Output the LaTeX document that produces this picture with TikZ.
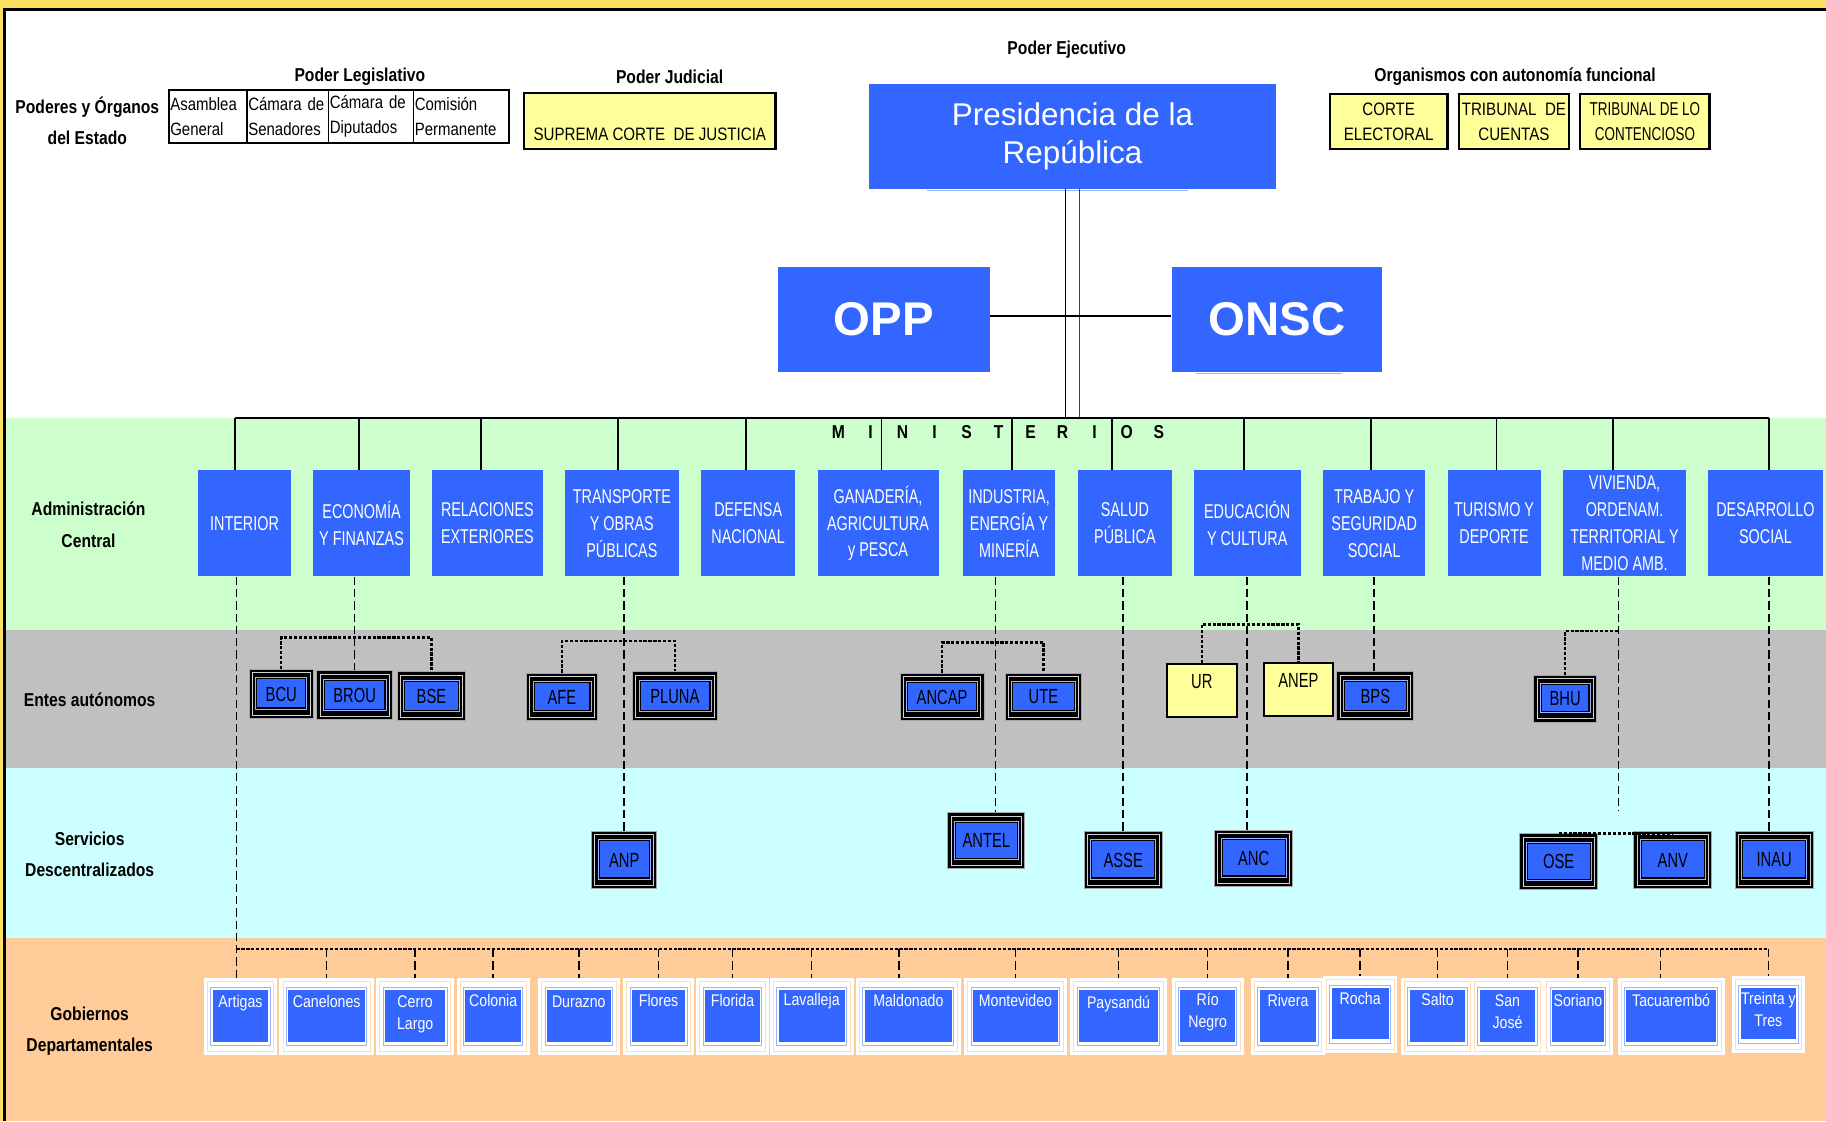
\documentclass[tikz,border=0pt]{standalone}
\usepackage{fontspec}
\setmainfont{Liberation Sans}
\newfontfamily\narrowsf{Liberation Sans}[FakeStretch=0.84]
\newfontfamily\condsf{Liberation Sans}[FakeStretch=0.72]
\usetikzlibrary{positioning}
\definecolor{boxblue}{HTML}{3366FF}
\definecolor{paleyellow}{HTML}{FFFF99}
\definecolor{bandgreen}{HTML}{CCFFCC}
\definecolor{bandgray}{HTML}{C0C0C0}
\definecolor{bandcyan}{HTML}{CCFFFF}
\definecolor{bandorange}{HTML}{FFCC99}
\definecolor{frameyellow}{HTML}{F9E060}
\definecolor{paleblue}{HTML}{99B3FF}
\definecolor{peach}{HTML}{FFDDBB}
\newcommand{\mletter}[1]{\makebox[6.875mm]{#1}}

\begin{document}
\begin{tikzpicture}[x=0.25mm,y=0.25mm,
  head/.style={font=\narrowsf\bfseries\fontsize{11.4}{19.2}\selectfont,align=center,inner sep=0},
  legcell/.style={draw,line width=1.1pt,outer sep=0,minimum height=11.5mm,inner xsep=0.3mm,inner ysep=0,align=left,font=\narrowsf\fontsize{10.9}{15}\selectfont},
  yelbox/.style={draw,line width=1.4pt,fill=paleyellow,inner sep=0,font=\narrowsf\fontsize{11}{15}\selectfont},
  bigbox/.style={fill=boxblue,text=white,inner sep=0,minimum height=22.5mm},
  minbox/.style={fill=boxblue,text=white,inner sep=0,minimum height=22.75mm,align=center,font=\condsf\fontsize{12.2}{16.4}\selectfont},
  entebox/.style={fill=black,draw=gray!70,line width=0.6pt,inner sep=0,text=black,font=\condsf\fontsize{12.5}{14}\selectfont,
    path picture={
      \draw[gray!35,line width=0.5pt] ([shift={(0.7mm,-0.7mm)}]path picture bounding box.north west) rectangle ([shift={(-0.7mm,0.7mm)}]path picture bounding box.south east);
      \draw[paleblue,line width=0.4pt] ([shift={(1.4mm,-1.75mm)}]path picture bounding box.north west) rectangle ([shift={(-1.4mm,2mm)}]path picture bounding box.south east);
      \fill[boxblue] ([shift={(1.75mm,-2.1mm)}]path picture bounding box.north west) rectangle ([shift={(-1.75mm,2.4mm)}]path picture bounding box.south east);}},
  yelente/.style={draw,line width=1.2pt,fill=paleyellow,inner sep=0,minimum width=15mm,text height=5.25mm,text depth=6.25mm,font=\condsf\fontsize{12.5}{14}\selectfont},
  gobbox/.style={fill=white,inner sep=0,minimum height=16.5mm,
    path picture={
      \draw[peach,line width=0.5pt] ([shift={(0.75mm,-0.75mm)}]path picture bounding box.north west) rectangle ([shift={(-0.75mm,0.75mm)}]path picture bounding box.south east);
      \draw[paleblue,line width=0.6pt] ([shift={(1.5mm,-2mm)}]path picture bounding box.north west) rectangle ([shift={(-1.5mm,2mm)}]path picture bounding box.south east);
      \fill[boxblue] ([shift={(1.9mm,-2.5mm)}]path picture bounding box.north west) rectangle ([shift={(-1.9mm,2.9mm)}]path picture bounding box.south east);}},
  gobtxt/.style={anchor=north,inner sep=0,text=white,align=center,font=\narrowsf\fontsize{10.3}{13.5}\selectfont},
  link/.style={line width=1.1pt},
  bus/.style={line width=1.5pt},
  drop/.style={line width=0.9pt,dash pattern=on 5pt off 2.5pt},
  bracket/.style={line width=1.5pt,dash pattern=on 2pt off 1pt}]
\useasboundingbox (0,0) rectangle (1568,-963);
\fill[frameyellow] (0,0) rectangle (1568,-963);
\fill[white] (3,-7) rectangle (1568,-963);
\fill[bandgreen] (3,-359) rectangle (1568,-541);
\fill[bandgray] (3,-541) rectangle (1568,-659.5);
\fill[bandcyan] (3,-659.5) rectangle (1568,-805.5);
\fill[bandorange] (3,-805.5) rectangle (1568,-963);
\draw[line width=1.6pt] (4,-963) -- (4,-8.2) -- (1568,-8.2);

\node[head] (poderes) at (75,-103.5) {Poderes y Órganos\\del Estado};
\node[head] (legis) at (309,-66) {Poder Legislativo};
\node[head] (judicial) at (575,-66) {Poder Judicial};
\node[head] (ejecutivo) at (916,-43) {Poder Ejecutivo};
\node[head] (organismos) at (1301,-66) {Organismos con autonomía funcional};

\node[legcell,text width=16.15mm,anchor=west] (asamblea) at (145,-100) {Asamblea\\General};
\node[legcell,text width=16.9mm,right=0pt of asamblea] (senadores) {Cámara de\\Senadores};
\node[legcell,text width=17.65mm,right=0pt of senadores] (diputados) {Cámara de\\Diputados};
\node[legcell,text width=19.9mm,right=0pt of diputados] (comision) {Comisión\\Permanente};

\node[yelbox,minimum width=54mm,text height=10.25mm,text depth=1.75mm] (scj) at (558,-104) {SUPREMA CORTE\ \ DE JUSTICIA};
\node[yelbox,align=center,minimum width=25.25mm,minimum height=11.75mm] (electoral) at (1192.5,-104.5) {CORTE\\ELECTORAL};
\node[yelbox,align=center,minimum width=23.5mm,minimum height=11.75mm] (cuentas) at (1300,-104.5) {TRIBUNAL\ \ DE\\CUENTAS};
\node[yelbox,align=center,minimum width=27.75mm,minimum height=11.75mm,font=\condsf\fontsize{11.4}{15}\selectfont] (contencioso) at (1412.5,-104.5) {TRIBUNAL DE LO\\CONTENCIOSO};

\node[bigbox,minimum width=87.5mm,align=center,font=\fontsize{19.2}{23.5}\selectfont] (presi) at (921,-117) {Presidencia de la\\República};
\node[bigbox,minimum width=45.5mm,font=\bfseries\fontsize{28.9}{30}\selectfont] (opp) at (759,-274) {OPP};
\node[bigbox,minimum width=45.25mm,font=\bfseries\fontsize{28.9}{30}\selectfont] (onsc) at (1096.5,-274) {ONSC};
\draw[paleblue,line width=0.8pt] ([shift={(12.5mm,-0.3mm)}]presi.south west) -- ([shift={(-19mm,-0.3mm)}]presi.south east);
\draw[paleblue,line width=0.8pt] ([shift={(5.25mm,-0.3mm)}]onsc.south west) -- ([shift={(-8.75mm,-0.3mm)}]onsc.south east);

\coordinate (busL) at (202,-359);
\coordinate (busR) at (1519,-359);
\node[head] (ministerios) at (857.5,-371) {\mletter{M}\mletter{I}\mletter{N}\mletter{I}\mletter{S}\mletter{T}\mletter{E}\mletter{R}\mletter{I}\mletter{O}\mletter{S}};

\node[head] (admin) at (76,-450.5) {Administración\\Central};
\node[head] (entes) at (77,-601) {Entes autónomos};
\node[head] (servicios) at (77,-733.5) {Servicios\\Descentralizados};
\node[head] (gobiernos) at (77,-885.5) {Gobiernos\\Departamentales};

\node[minbox,minimum width=20mm] (interior) at (210,-449.5) {INTERIOR};
\node[minbox,minimum width=20.75mm] (economia) at (310.5,-449.5) {ECONOMÍA\\Y FINANZAS};
\node[minbox,minimum width=23.75mm] (relaciones) at (418.5,-449.5) {RELACIONES\\EXTERIORES};
\node[minbox,minimum width=24.5mm] (transporte) at (534,-449.5) {TRANSPORTE\\Y OBRAS\\PÚBLICAS};
\node[minbox,minimum width=20.25mm] (defensa) at (642.5,-449.5) {DEFENSA\\NACIONAL};
\node[minbox,minimum width=26mm] (ganaderia) at (754,-449.5) {GANADERÍA,\\AGRICULTURA\\y PESCA};
\node[minbox,minimum width=19.75mm] (industria) at (866.5,-449.5) {INDUSTRIA,\\ENERGÍA Y\\MINERÍA};
\node[minbox,minimum width=20mm] (salud) at (966,-449.5) {SALUD\\PÚBLICA};
\node[minbox,minimum width=23mm] (educacion) at (1071,-449.5) {EDUCACIÓN\\Y CULTURA};
\node[minbox,minimum width=22mm] (trabajo) at (1180,-449.5) {TRABAJO Y\\SEGURIDAD\\SOCIAL};
\node[minbox,minimum width=20mm] (turismo) at (1283,-449.5) {TURISMO Y\\DEPORTE};
\node[minbox,minimum width=26.5mm] (vivienda) at (1395,-449.5) {VIVIENDA,\\ORDENAM.\\TERRITORIAL Y\\MEDIO AMB.};
\node[minbox,minimum width=24.5mm] (desarrollo) at (1516,-449.5) {DESARROLLO\\SOCIAL};

\node[entebox,minimum width=13.75mm,minimum height=10.5mm] (bcu) at (241.5,-596) {BCU};
\node[entebox,minimum width=16.25mm,minimum height=10.5mm] (brou) at (304.5,-597) {BROU};
\node[entebox,minimum width=14.75mm,minimum height=10.5mm] (bse) at (370.5,-598) {BSE};
\node[entebox,minimum width=15.25mm,minimum height=10.25mm] (afe) at (482.5,-598.5) {AFE};
\node[entebox,minimum width=18.25mm,minimum height=10.5mm] (pluna) at (579.5,-598) {PLUNA};
\node[entebox,minimum width=18mm,minimum height=10.25mm] (ancap) at (809,-598.5) {ANCAP};
\node[entebox,minimum width=16.5mm,minimum height=10.25mm] (ute) at (896,-598.5) {UTE};
\node[yelente] (ur) at (1032,-593) {UR};
\node[yelente] (anep) at (1115,-592) {ANEP};
\node[entebox,minimum width=16.5mm,minimum height=10.5mm] (bps) at (1181,-598) {BPS};
\node[entebox,minimum width=13.5mm,minimum height=10mm] (bhu) at (1344,-600) {BHU};

\node[entebox,minimum width=14mm,minimum height=12.25mm] (anp) at (536,-738.5) {ANP};
\node[entebox,minimum width=16.5mm,minimum height=12mm] (antel) at (847,-722) {ANTEL};
\node[entebox,minimum width=16.75mm,minimum height=12.25mm] (asse) at (964.5,-738.5) {ASSE};
\node[entebox,minimum width=16.75mm,minimum height=12mm] (anc) at (1076.5,-737) {ANC};
\node[entebox,minimum width=16.75mm,minimum height=12mm] (ose) at (1338.5,-740) {OSE};
\node[entebox,minimum width=16.75mm,minimum height=12.25mm] (anv) at (1436.5,-738.5) {ANV};
\node[entebox,minimum width=16.75mm,minimum height=12.25mm] (inau) at (1523.5,-738.5) {INAU};

\node[gobbox,minimum width=15.75mm] (artigas) at (206.5,-873) {};
\node[gobbox,minimum width=20.25mm] (canelones) at (280.5,-873) {};
\node[gobbox,minimum width=16.75mm] (cerro) at (356.5,-873) {};
\node[gobbox,minimum width=15.75mm] (colonia) at (423.5,-873) {};
\node[gobbox,minimum width=17.5mm] (durazno) at (497,-873) {};
\node[gobbox,minimum width=15.25mm] (flores) at (565.5,-873) {};
\node[gobbox,minimum width=15.5mm] (florida) at (629,-873) {};
\node[gobbox,minimum width=18mm] (lavalleja) at (697,-873) {};
\node[gobbox,minimum width=22.5mm] (maldonado) at (780,-873) {};
\node[gobbox,minimum width=22mm] (montevideo) at (872,-873) {};
\node[gobbox,minimum width=20.75mm] (paysandu) at (960.5,-873) {};
\node[gobbox,minimum width=15.5mm] (rionegro) at (1037,-873) {};
\node[gobbox,minimum width=16mm] (rivera) at (1106,-873) {};
\node[gobbox,minimum width=16mm] (rocha) at (1168,-871) {};
\node[gobbox,minimum width=15.75mm] (salto) at (1234.5,-873) {};
\node[gobbox,minimum width=15.75mm] (sanjose) at (1294.5,-873) {};
\node[gobbox,minimum width=15mm] (soriano) at (1355,-873) {};
\node[gobbox,minimum width=23mm] (tacuarembo) at (1435,-873) {};
\node[gobbox,minimum width=15.75mm] (treinta) at (1518.5,-871) {};

\node[gobtxt] (artigasT) at ([yshift=-3.75mm]artigas.north) {Artigas};
\node[gobtxt] (canelonesT) at ([yshift=-3.75mm]canelones.north) {Canelones};
\node[gobtxt] (cerroT) at ([yshift=-3.75mm]cerro.north) {Cerro\\Largo};
\node[gobtxt] (coloniaT) at ([yshift=-3.5mm]colonia.north) {Colonia};
\node[gobtxt] (duraznoT) at ([yshift=-3.75mm]durazno.north) {Durazno};
\node[gobtxt] (floresT) at ([yshift=-3.5mm]flores.north) {Flores};
\node[gobtxt] (floridaT) at ([yshift=-3.5mm]florida.north) {Florida};
\node[gobtxt] (lavallejaT) at ([yshift=-3.25mm]lavalleja.north) {Lavalleja};
\node[gobtxt] (maldonadoT) at ([yshift=-3.5mm]maldonado.north) {Maldonado};
\node[gobtxt] (montevideoT) at ([yshift=-3.5mm]montevideo.north) {Montevideo};
\node[gobtxt] (paysanduT) at ([yshift=-3.75mm]paysandu.north) {Paysandú};
\node[gobtxt] (rionegroT) at ([yshift=-3.25mm]rionegro.north) {Río\\Negro};
\node[gobtxt] (riveraT) at ([yshift=-3.5mm]rivera.north) {Rivera};
\node[gobtxt] (rochaT) at ([yshift=-3.5mm]rocha.north) {Rocha};
\node[gobtxt] (saltoT) at ([yshift=-3.25mm]salto.north) {Salto};
\node[gobtxt] (sanjoseT) at ([yshift=-3.5mm]sanjose.north) {San\\José};
\node[gobtxt] (sorianoT) at ([yshift=-3.5mm]soriano.north) {Soriano};
\node[gobtxt] (tacuaremboT) at ([yshift=-3.5mm]tacuarembo.north) {Tacuarembó};
\node[gobtxt] (treintaT) at ([yshift=-3.5mm]treinta.north) {Treinta y\\Tres};

\draw[link] ([xshift=-1.5mm]presi.south) -- ([xshift=-1.5mm]presi.south |- busL);
\draw[link,line width=0.8pt,black!75] ([xshift=1.5mm]presi.south) -- ([xshift=1.5mm]presi.south |- busL);
\draw[link,line width=1.3pt] ([yshift=0.6mm]opp.east) -- ([yshift=0.6mm]opp.east -| onsc.west);
\draw[bus] (busL) -- (busR);
\draw[link] ([xshift=-2mm]interior.north) -- ([xshift=-2mm]interior.north |- busL)
  ([xshift=-0.6mm]economia.north) -- ([xshift=-0.6mm]economia.north |- busL)
  ([xshift=-1.4mm]relaciones.north) -- ([xshift=-1.4mm]relaciones.north |- busL)
  ([xshift=-0.75mm]transporte.north) -- ([xshift=-0.75mm]transporte.north |- busL)
  ([xshift=-0.4mm]defensa.north) -- ([xshift=-0.4mm]defensa.north |- busL)
  ([xshift=0.75mm]ganaderia.north) -- ([xshift=0.75mm]ganaderia.north |- busL)
  ([xshift=0.6mm]industria.north) -- ([xshift=0.6mm]industria.north |- busL)
  ([xshift=-2.75mm]salud.north) -- ([xshift=-2.75mm]salud.north |- busL)
  ([xshift=-0.75mm]educacion.north) -- ([xshift=-0.75mm]educacion.north |- busL)
  ([xshift=-0.75mm]trabajo.north) -- ([xshift=-0.75mm]trabajo.north |- busL)
  ([xshift=0.5mm]turismo.north) -- ([xshift=0.5mm]turismo.north |- busL)
  ([xshift=-2.5mm]vivienda.north) -- ([xshift=-2.5mm]vivienda.north |- busL)
  ([xshift=0.75mm]desarrollo.north) -- ([xshift=0.75mm]desarrollo.north |- busL);

\coordinate (gobL) at (203,-815);
\coordinate (vivend) at (1390,-696);
\draw[drop] (gobL |- interior.south) -- (gobL |- artigas.north);
\draw[drop] (brou.north |- economia.south) -- (brou.north);
\draw[drop] (anp.north |- transporte.south) -- (anp.north);
\draw[drop] ([xshift=-2.9mm]industria.south) -- ([xshift=-2.9mm]industria.south |- antel.north);
\draw[drop] (asse.north |- salud.south) -- (asse.north);
\draw[drop] (educacion.south) -- (educacion.south |- anc.north);
\draw[drop] (trabajo.south) -- (trabajo.south |- bps.north);
\draw[drop] (vivend |- vivienda.south) -- (vivend);
\draw[drop] ([xshift=0.75mm]desarrollo.south) -- ([xshift=0.75mm]desarrollo.south |- inau.north);

\draw[bracket] (bcu.north) -- ++(0,27) -| (bse.north);
\draw[bracket] (afe.north) -- ++(0,27) -| (pluna.north);
\draw[bracket] (ancap.north) -- ++(0,26) -| (ute.north);
\draw[bracket] (ur.north) -- ++(0,33) -| (anep.north);
\draw[bracket] (bhu.north) |- (vivend |- 0,-542);
\draw[bracket] (ose.north) -- (ose.north -| anv.north);
\draw[bracket] (gobL) -- (gobL -| treinta.north);

\draw[drop] (canelones.north |- gobL) -- (canelones.north)
  (cerro.north |- gobL) -- (cerro.north)
  (colonia.north |- gobL) -- (colonia.north)
  (durazno.north |- gobL) -- (durazno.north)
  (flores.north |- gobL) -- (flores.north)
  (florida.north |- gobL) -- (florida.north)
  (lavalleja.north |- gobL) -- (lavalleja.north)
  ([xshift=-2mm]maldonado.north |- gobL) -- ([xshift=-2mm]maldonado.north)
  (montevideo.north |- gobL) -- (montevideo.north)
  (paysandu.north |- gobL) -- (paysandu.north)
  (rionegro.north |- gobL) -- (rionegro.north)
  (rivera.north |- gobL) -- (rivera.north)
  (rocha.north |- gobL) -- (rocha.north)
  (salto.north |- gobL) -- (salto.north)
  (sanjose.north |- gobL) -- (sanjose.north)
  (soriano.north |- gobL) -- (soriano.north)
  ([xshift=-2.25mm]tacuarembo.north |- gobL) -- ([xshift=-2.25mm]tacuarembo.north)
  (treinta.north |- gobL) -- (treinta.north);
\end{tikzpicture}
\end{document}
